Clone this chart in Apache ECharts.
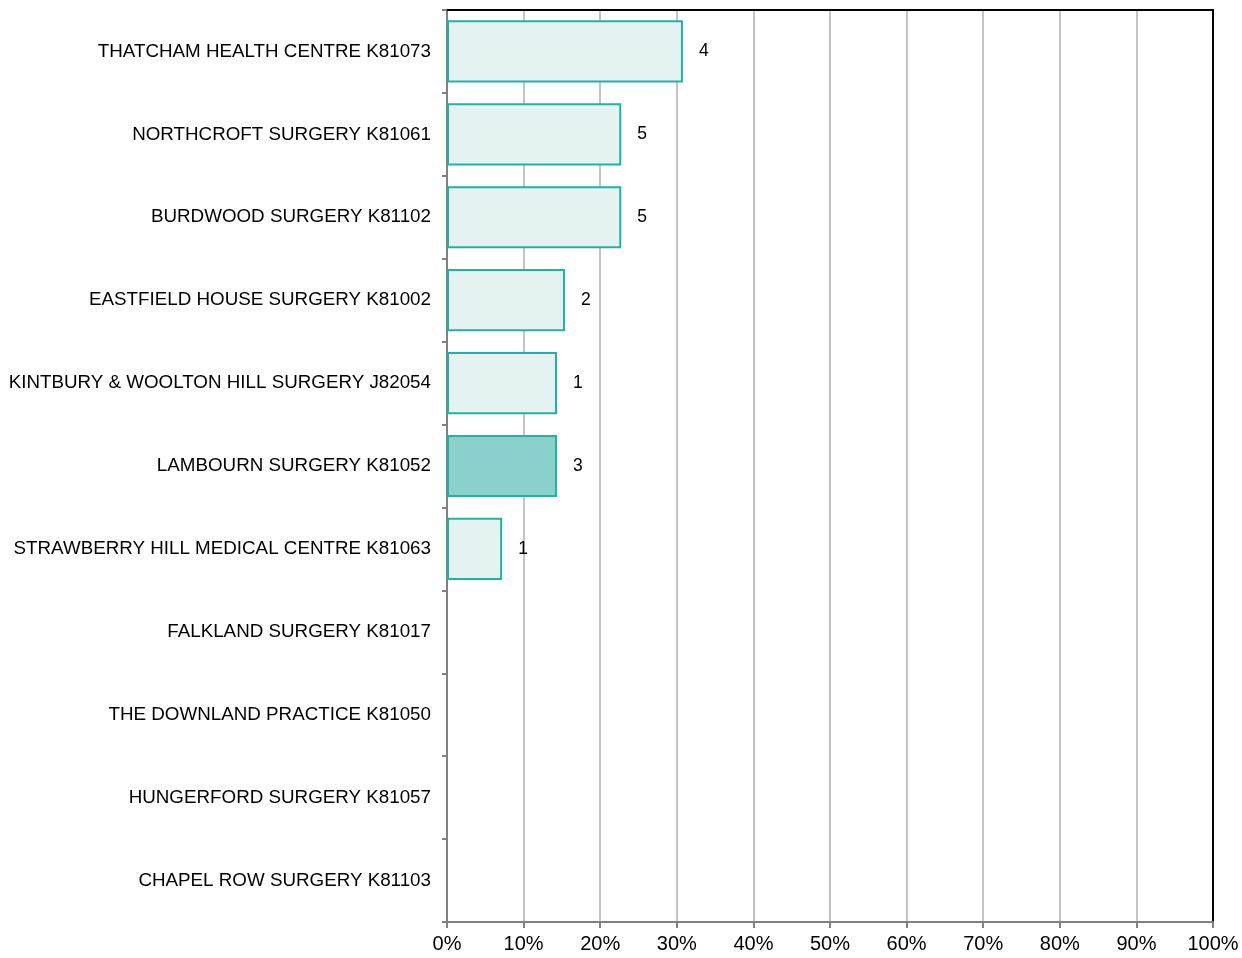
<!DOCTYPE html>
<html>
<head>
<meta charset="utf-8">
<script src="https://cdn.jsdelivr.net/npm/echarts@6/dist/echarts.min.js"></script>
<style>
html,body{margin:0;padding:0;background:#fff;}
#chart{width:1242px;height:958px;}
</style>
</head>
<body>
<div id="chart"></div>
<script>
const categories = [
  "THATCHAM HEALTH CENTRE K81073",
  "NORTHCROFT SURGERY K81061",
  "BURDWOOD SURGERY K81102",
  "EASTFIELD HOUSE SURGERY K81002",
  "KINTBURY & WOOLTON HILL SURGERY J82054",
  "LAMBOURN SURGERY K81052",
  "STRAWBERRY HILL MEDICAL CENTRE K81063",
  "FALKLAND SURGERY K81017",
  "THE DOWNLAND PRACTICE K81050",
  "HUNGERFORD SURGERY K81057",
  "CHAPEL ROW SURGERY K81103"
];
const percentValues = [30.8, 22.75, 22.75, 15.4, 14.36, 14.36, 7.2, 0, 0, 0, 0];
const countLabels = ["4", "5", "5", "2", "1", "3", "1", "", "", "", ""];
const xTickLabels = ["0%","10%","20%","30%","40%","50%","60%","70%","80%","90%","100%"];
const highlighted = "LAMBOURN SURGERY K81052";

const chart = echarts.init(document.getElementById('chart'), null, {renderer:'canvas'});
const font = '"Liberation Sans", Arial, sans-serif';
const seriesData = percentValues.map((v, i) => {
  const item = { value: v };
  if (categories[i] === highlighted) item.itemStyle = { color: '#89d1ca' };
  if (v === 0) item.itemStyle = Object.assign({}, item.itemStyle, { borderWidth: 0 });
  return item;
});
chart.setOption({
  animation: false,
  backgroundColor: '#fff',
  grid: {
    left: 447, right: 29, top: 10, bottom: 36,
    show: true, borderColor: '#000', borderWidth: 2, backgroundColor: 'transparent'
  },
  xAxis: [{
    type: 'value', min: 0, max: 100, interval: 10,
    axisLine: { show: true, onZero: false, lineStyle: { color: '#808080', width: 2 } },
    axisTick: { show: true, length: 6, lineStyle: { color: '#808080', width: 2 } },
    splitLine: { show: true, lineStyle: { color: '#c4c4c4', width: 2 } },
    axisLabel: {
      color: '#000', fontFamily: font, fontSize: 20, margin: 12,
      formatter: (v) => xTickLabels[Math.round(v / 10)]
    }
  }, {
    type: 'value', min: 0, max: 100, position: 'top',
    axisLine: { show: true, onZero: false, lineStyle: { color: '#000', width: 2 } },
    axisTick: { show: false }, axisLabel: { show: false }, splitLine: { show: false }
  }],
  yAxis: [{
    type: 'category', data: categories, inverse: true,
    axisLine: { show: true, onZero: false, lineStyle: { color: '#808080', width: 2 } },
    axisTick: { show: true, length: 5, lineStyle: { color: '#808080', width: 2 } },
    splitLine: { show: false },
    axisLabel: { color: '#000', fontFamily: font, fontSize: 18.8, margin: 16 }
  }, {
    type: 'category', data: categories, inverse: true, position: 'right',
    axisLine: { show: true, onZero: false, lineStyle: { color: '#000', width: 2 } },
    axisTick: { show: false }, axisLabel: { show: false }, splitLine: { show: false }
  }],
  series: [{
    type: 'bar',
    xAxisIndex: 0, yAxisIndex: 0,
    data: seriesData,
    barCategoryGap: '25%',
    itemStyle: { color: '#e4f3f2', borderColor: '#1db4a3', borderWidth: 2 },
    label: {
      show: true, position: 'right', distance: 16,
      color: '#000', fontFamily: font, fontSize: 17.5,
      formatter: (p) => countLabels[p.dataIndex]
    }
  }]
});
</script>
</body>
</html>
